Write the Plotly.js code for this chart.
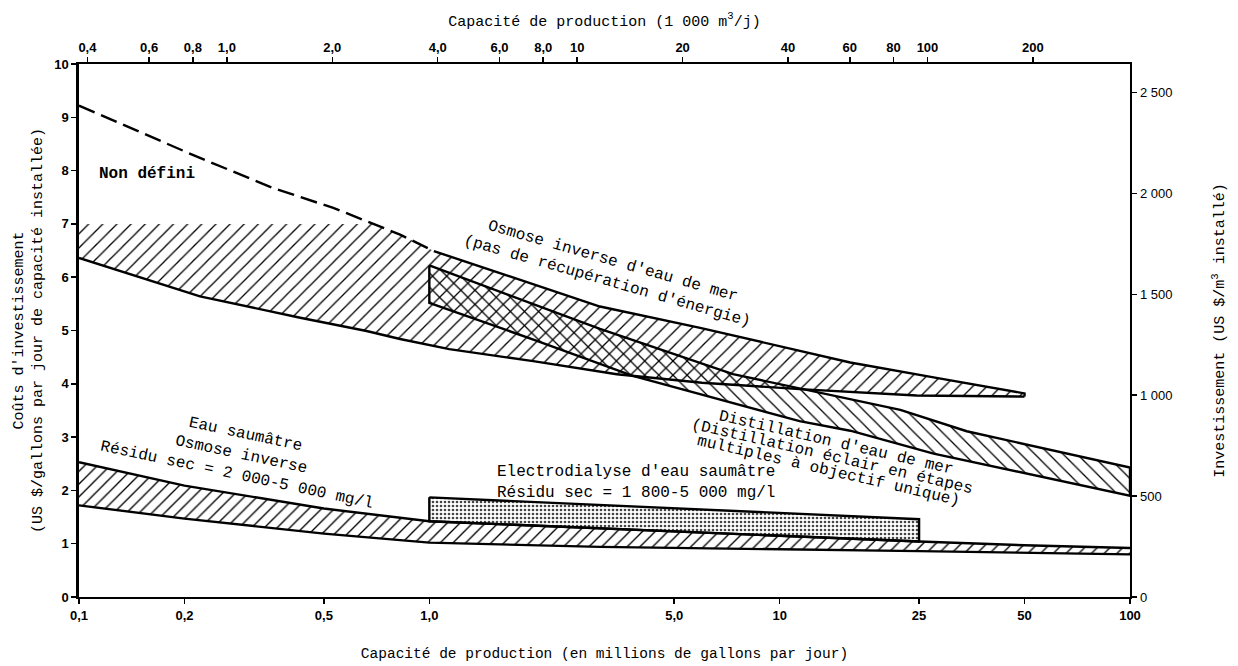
<!DOCTYPE html>
<html>
<head>
<meta charset="utf-8">
<script src="https://cdn.plot.ly/plotly-3.0.1.min.js"></script>
<style>
  html, body { margin: 0; padding: 0; background: #fff; }
  #chart { width: 1238px; height: 666px; }
</style>
</head>
<body>
<div id="chart"></div>
<script>
// ---------- Data (capacity in millions of gallons per day, cost in US $/gallon per day) ----------
// Osmose inverse d'eau de mer
const roDashX = [0.1, 0.212, 0.359, 0.532, 0.825, 1.03];
const roDashY = [9.22, 8.29, 7.67, 7.30, 6.80, 6.49];
const roCapX  = [0.1, 0.69];
const roCapY  = [7.0, 7.0];
const roTopX  = [1.03, 2, 3.07, 5.93, 11.4, 15.9, 27.5, 50];
const roTopY  = [6.49, 5.85, 5.45, 5.05, 4.62, 4.40, 4.12, 3.82];
const roBotX  = [0.1, 0.2215, 0.428, 0.662, 0.825, 1.14, 2, 3.43, 6, 11.4, 24.6, 50];
const roBotY  = [6.36, 5.64, 5.24, 4.99, 4.84, 4.65, 4.42, 4.18, 4.02, 3.90, 3.78, 3.76];

// Distillation d'eau de mer
const distTopX = [1.0, 3.07, 7.36, 11.4, 22.1, 34.2, 100];
const distTopY = [6.22, 5.03, 4.18, 3.91, 3.51, 3.11, 2.43];
const distBotX = [1.0, 2.0, 3.81, 11.4, 15.9, 27.5, 100];
const distBotY = [5.52, 4.82, 4.15, 3.30, 3.12, 2.69, 1.90];

// Eau saumâtre, osmose inverse
const brTopX = [0.1, 0.2, 0.5, 1.0, 25, 50, 100];
const brTopY = [2.53, 2.09, 1.66, 1.42, 1.04, 0.97, 0.92];
const brBotX = [0.1, 0.2, 0.5, 1.0, 3.07, 10, 25, 100];
const brBotY = [1.72, 1.47, 1.19, 1.02, 0.94, 0.90, 0.86, 0.80];

// Electrodialyse d'eau saumâtre
const edX    = [1.0, 25];
const edTopY = [1.87, 1.46];
const edBotY = [1.42, 1.04];

// Axis ticks
const bottomTickVals = [0.1, 0.2, 0.5, 1, 5, 10, 25, 50, 100];
const bottomTickText = ['0,1', '0,2', '0,5', '1,0', '5,0', '10', '25', '50', '100'];
const topTickVals = [0.4, 0.6, 0.8, 1, 2, 4, 6, 8, 10, 20, 40, 60, 80, 100, 200];
const topTickText = ['0,4', '0,6', '0,8', '1,0', '2,0', '4,0', '6,0', '8,0', '10', '20', '40', '60', '80', '100', '200'];
const rightTickVals = [0, 500, 1000, 1500, 2000, 2500];
const rightTickText = ['0', '500', '1 000', '1 500', '2 000', '2 500'];

// Unit conversions
const M3_PER_MGD = 3.785;        // 1 million gal/day = 3.785 thousand m3/day
const USDM3_PER_USDGPD = 264.17; // 1 $/(gal/day) = 264.17 $/(m3/day)

// ---------- helpers ----------
const MONO = 'Liberation Mono, DejaVu Sans Mono, monospace';
const SANS = 'Liberation Sans, Arial, sans-serif';
const rev = a => a.slice().reverse();
const LW = 2.4;

function band(topX, topY, botX, botY, pattern) {
  return {
    x: topX.concat(rev(botX)), y: topY.concat(rev(botY)),
    mode: 'none', fill: 'toself', fillcolor: 'rgba(0,0,0,0)',
    fillpattern: pattern, hoverinfo: 'skip', showlegend: false
  };
}
function line(x, y, extra) {
  return Object.assign({x: x, y: y, mode: 'lines', line: {color: '#000', width: LW},
                        hoverinfo: 'skip', showlegend: false}, extra || {});
}

// RO fill top: flat cap, dashed part below the cap, then solid top line
const capEnd = roCapX[roCapX.length - 1];
const idxBelow = roDashX.map((v, i) => i).filter(i => roDashX[i] > capEnd && i < roDashX.length - 1);
const roFillTopX = roCapX.concat(idxBelow.map(i => roDashX[i]), roTopX);
const roFillTopY = roCapY.concat(idxBelow.map(i => roDashY[i]), roTopY);

const hatchA = {shape: '/', size: 10, solidity: 0.13, fgcolor: '#000', bgcolor: 'rgba(0,0,0,0)'};
const hatchB = {shape: '\\', size: 10, solidity: 0.13, fgcolor: '#000', bgcolor: 'rgba(0,0,0,0)'};
const hatchC = {shape: '/', size: 9, solidity: 0.15, fgcolor: '#000', bgcolor: 'rgba(0,0,0,0)'};
const dots   = {shape: '.', size: 4, solidity: 0.35, fgcolor: '#444', bgcolor: 'rgba(0,0,0,0)'};

const traces = [
  band(roFillTopX, roFillTopY, roBotX, roBotY, hatchA),
  band(distTopX, distTopY, distBotX, distBotY, hatchB),
  band(brTopX, brTopY, brBotX, brBotY, hatchC),
  band(edX, edTopY, edX, edBotY, dots),
  // outlines
  line(roDashX, roDashY, {line: {color: '#000', width: LW, dash: '17px,7px'}}),
  line(roTopX.concat([roBotX[roBotX.length - 1]]), roTopY.concat([roBotY[roBotY.length - 1]])),
  line(roBotX, roBotY),
  line(distTopX.concat(rev(distBotX), [distTopX[0]]), distTopY.concat(rev(distBotY), [distTopY[0]])),
  line(brTopX, brTopY),
  line(brBotX, brBotY),
  line(edX.concat(rev(edX), [edX[0]]), edTopY.concat(rev(edBotY), [edTopY[0]])),
  // same brackish lower curve expressed in metric units, carried by the secondary axes (invisible)
  {x: brBotX.map(v => v * M3_PER_MGD), y: brBotY.map(v => v * USDM3_PER_USDGPD),
   xaxis: 'x2', yaxis: 'y2', mode: 'lines', opacity: 0, line: {width: 0.1, color: '#000'},
   hoverinfo: 'skip', showlegend: false}
];

const tickFontBold = {family: SANS, size: 13, color: '#000', weight: 'bold'};
const titleFont = {family: MONO, size: 15, color: '#000'};
const annFont = {family: MONO, size: 16, color: '#000'};
const L = Math.log10;

const axisCommon = {
  ticks: 'outside', ticklen: 5, tickwidth: 1.5, tickcolor: '#000',
  showline: true, linecolor: '#000', showgrid: false, zeroline: false, automargin: false
};

function note(text, x, y, angle, extra) {
  return Object.assign({text: text, x: L(x), y: y, xref: 'x', yref: 'y', showarrow: false,
                        textangle: angle || 0, font: annFont}, extra || {});
}

const layout = {
  width: 1238, height: 666,
  paper_bgcolor: '#fff', plot_bgcolor: '#fff',
  margin: {l: 79, r: 108, t: 64, b: 69},
  showlegend: false,
  xaxis: Object.assign({}, axisCommon, {
    type: 'log', range: [L(0.1), L(100)], tickvals: bottomTickVals, ticktext: bottomTickText,
    linewidth: 2, tickfont: tickFontBold,
    title: {text: 'Capacité de production (en millions de gallons par jour)', font: {family: MONO, size: 14.5, color: '#000'}, standoff: 26}
  }),
  xaxis2: Object.assign({}, axisCommon, {
    type: 'log', overlaying: 'x', side: 'top', anchor: 'y',
    range: [L(0.1 * M3_PER_MGD), L(100 * M3_PER_MGD)],
    tickvals: topTickVals, ticktext: topTickText,
    linewidth: 2, tickfont: tickFontBold,
    title: {text: 'Capacité de production (1 000 m<sup>3</sup>/j)', font: titleFont, standoff: 10}
  }),
  yaxis: Object.assign({}, axisCommon, {
    range: [0, 10], dtick: 1, tick0: 0, linewidth: 2.6,
    tickfont: tickFontBold,
    title: {text: "Coûts d'investissement<br>(US $/gallons par jour de capacité installée)", font: titleFont, standoff: 8}
  }),
  yaxis2: Object.assign({}, axisCommon, {
    overlaying: 'y', side: 'right', anchor: 'x',
    range: [0, 10 * USDM3_PER_USDGPD], tickvals: rightTickVals, ticktext: rightTickText,
    linewidth: 2.4,
    tickfont: {family: SANS, size: 13, color: '#000'},
    title: {text: 'Investissement (US $/m<sup>3</sup> installé)', font: titleFont, standoff: 42}
  }),
  annotations: [
    note('<b>Non défini</b>', 0.156, 7.93, 0),
    note("Osmose inverse d'eau de mer<br>(pas de récupération d'énergie)", 3.28, 6.1, 16),
    note("Distillation d'eau de mer", 14.49, 2.89, 13),
    note('(Distillation éclair en étapes', 14.11, 2.62, 13),
    note('multiples à objectif unique)', 13.75, 2.36, 13),
    note('Eau saumâtre<br>Osmose inverse<br>Résidu sec = 2 000-5 000 mg/l', 0.29, 2.67, 12),
    note("Electrodialyse d'eau saumâtre<br>Résidu sec = 1 800-5 000 mg/l", 3.9, 2.15, 0, {align: 'left'})
  ]
};

Plotly.newPlot('chart', traces, layout, {staticPlot: true, displayModeBar: false});
</script>
</body>
</html>
